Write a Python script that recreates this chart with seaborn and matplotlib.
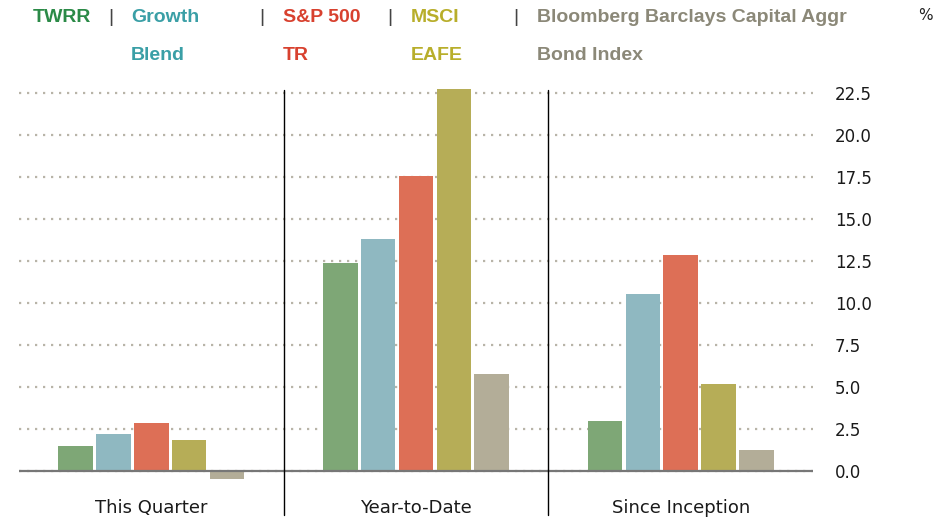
import matplotlib
matplotlib.use('Agg')
import matplotlib.pyplot as plt
import seaborn as sns
import pandas as pd
from matplotlib.ticker import FormatStrFormatter

periods = ['This Quarter', 'Year-to-Date', 'Since Inception']
series = ['TWRR', 'Growth Blend', 'S&P 500 TR', 'MSCI EAFE',
          'Bloomberg Barclays Capital Aggr Bond Index']

twrr = [1.47, 12.37, 2.95]
growth_blend = [2.18, 13.80, 10.52]
sp500_tr = [2.83, 17.55, 12.85]
msci_eafe = [1.82, 22.73, 5.16]
bond_index = [-0.50, 5.75, 1.22]

legend_lines = [('TWRR', ''), ('Growth', 'Blend'), ('S&P 500', 'TR'),
                ('MSCI', 'EAFE'), ('Bloomberg Barclays Capital Aggr', 'Bond Index')]
y_ticks = [0, 2.5, 5, 7.5, 10, 12.5, 15, 17.5, 20, 22.5]

bar_colors = ['#7ea776', '#8fb8c1', '#dd6f56', '#b6ad57', '#b3ad98']
text_colors = ['#2b8a47', '#3a9fa6', '#d8412f', '#b8ae2b', '#8b8878']

sns.set_style('white')
plt.rcParams['font.family'] = ['DejaVu Sans']

rows = []
for name, vals in zip(series, [twrr, growth_blend, sp500_tr, msci_eafe, bond_index]):
    for p, v in zip(periods, vals):
        rows.append({'period': p, 'series': name, 'value': v})
df = pd.DataFrame(rows)

W, H = 948, 519
fig = plt.figure(figsize=(W / 100, H / 100), dpi=100)
ax_bottom, ax_top = 480.6, 86
ax = fig.add_axes([19 / W, (H - ax_bottom) / H, (813 - 19) / W, (ax_bottom - ax_top) / H])

sns.barplot(
    data=df, x='period', y='value', hue='series',
    order=periods, hue_order=series, palette=bar_colors,
    width=0.715, gap=0.085, saturation=1, legend=False, ax=ax,
    linewidth=0, zorder=3
)

ax.set_xlim(-0.5, 2.5)
ax.set_ylim(-0.6, 22.9)
ax.set_yticks(y_ticks)
ax.yaxis.set_major_formatter(FormatStrFormatter('%.1f'))
ax.yaxis.tick_right()
ax.tick_params(axis='y', length=0, pad=15.8, labelsize=12, labelcolor='#1a1a1a')
ax.tick_params(axis='x', length=0, pad=13.5, labelsize=13, labelcolor='#1a1a1a')
for lab in ax.get_yticklabels():
    lab.set_horizontalalignment('left')
ax.set_xlabel('')
ax.set_ylabel('')
for s in ax.spines.values():
    s.set_visible(False)

ax.set_axisbelow(True)
ax.yaxis.grid(True, color='#b8b4a8', linestyle=(0, (1, 2.6)), linewidth=1.6)
ax.axhline(0, color='#777777', linewidth=1.6, zorder=4)

# group separators
frac_top = (ax_bottom - 90) / (ax_bottom - ax_top)
frac_bot = (ax_bottom - 515) / (ax_bottom - ax_top)
for xs in [0.5, 1.5]:
    ax.plot([xs, xs], [frac_bot, frac_top], color='black', linewidth=1.0,
            transform=ax.get_xaxis_transform(), clip_on=False, zorder=5)

# header legend
leg_x = [33, 131, 283, 411, 537]
sep_x = [111, 262, 390, 516]
for (l1, l2), c, x in zip(legend_lines, text_colors, leg_x):
    fig.text(x / W, 1 - 18 / H, l1, color=c, fontsize=14, fontweight='bold',
             family='Liberation Sans', va='center', ha='left')
    if l2:
        fig.text(x / W, 1 - 56 / H, l2, color=c, fontsize=14, fontweight='bold',
                 family='Liberation Sans', va='center', ha='left')
for x in sep_x:
    fig.text(x / W, 1 - 18 / H, '|', color='#444444', fontsize=14,
             family='Liberation Sans', va='center', ha='center')
fig.text(925 / W, 1 - 16 / H, '%', color='#222222', fontsize=11,
         va='center', ha='center')

fig.savefig('out.png', dpi=100)
